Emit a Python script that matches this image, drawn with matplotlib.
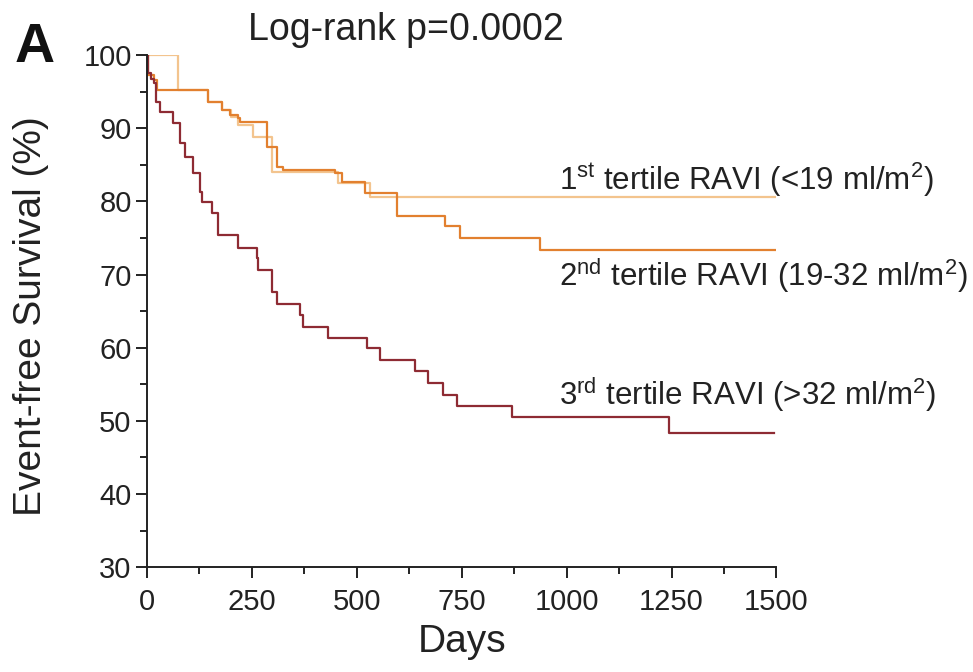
import matplotlib
matplotlib.use("Agg")
import matplotlib.pyplot as plt

plt.rcParams['font.family'] = ['Liberation Sans', 'DejaVu Sans']
plt.rcParams['mathtext.default'] = 'regular'

# Kaplan-Meier steps (days, event-free survival %)
t1_days = [0, 74, 145, 178, 200, 217, 252, 297, 455, 531, 1500]
t1_surv = [100, 95.2, 93.6, 92.5, 91.5, 90.4, 88.8, 84.0, 82.5, 80.6, 80.6]

t2_days = [0, 3, 18, 24, 145, 178, 198, 217, 221, 285, 309, 324, 448, 464,
           519, 595, 710, 745, 936, 1500]
t2_surv = [100, 97.3, 96.6, 95.2, 93.6, 92.5, 91.8, 91.4, 90.8, 87.4, 84.7,
           84.3, 83.9, 82.6, 81.1, 78.0, 76.6, 75.0, 73.3, 73.3]

t3_days = [0, 3, 10, 18, 22, 30, 63, 79, 90, 110, 126, 131, 155, 169, 217,
           262, 264, 298, 310, 364, 371, 431, 524, 555, 638, 669, 705, 738,
           869, 1245, 1495]
t3_surv = [100, 97.5, 96.8, 96.2, 93.6, 92.2, 90.7, 88.0, 86.1, 83.9, 81.3,
           79.9, 78.4, 75.4, 73.6, 72.2, 70.6, 67.6, 66.0, 64.5, 62.8, 61.3,
           59.9, 58.3, 56.8, 55.2, 53.5, 52.0, 50.5, 48.3, 48.3]

labels = [r"1$^{st}$ tertile RAVI (<19 ml/m$^{2}$)",
          r"2$^{nd}$ tertile RAVI (19-32 ml/m$^{2}$)",
          r"3$^{rd}$ tertile RAVI (>32 ml/m$^{2}$)"]
label_y = [82.9, 69.9, 53.6]
colors = ["#F3C48E", "#E2802F", "#8E2B33"]

fig = plt.figure(figsize=(9.73, 6.72), dpi=100)
ax = fig.add_axes([0.151, 0.156, 0.647, 0.762])

for d, s, c in [(t1_days, t1_surv, colors[0]),
                (t2_days, t2_surv, colors[1]),
                (t3_days, t3_surv, colors[2])]:
    ax.step(d, s, where='post', color=c, lw=1.6)

for lab, y in zip(labels, label_y):
    ax.text(983, y, lab, fontsize=22.5, va='center', ha='left', color='#222222')

ax.set_xlim(0, 1500)
ax.set_ylim(30, 100)
ax.set_xticks(range(0, 1501, 250))
ax.set_xticks(range(125, 1500, 250), minor=True)
ax.set_yticks(range(30, 101, 10))
ax.set_yticks(range(35, 100, 10), minor=True)
ax.tick_params(which='both', direction='out', width=1.4, colors='#222222',
               labelsize=21)
ax.tick_params(which='major', length=8)
ax.tick_params(which='minor', length=5)
ax.tick_params(axis='x', pad=7)
ax.tick_params(axis='y', pad=3)
for side in ['top', 'right']:
    ax.spines[side].set_visible(False)
for side in ['left', 'bottom']:
    ax.spines[side].set_linewidth(1.4)
    ax.spines[side].set_color('#222222')

# axis titles placed in figure coords
fig.text(0.475, 0.045, "Days", fontsize=28, ha='center', va='center',
         color='#222222')
fig.text(0.032, 0.53, "Event-free Survival (%)", fontsize=28, rotation=90,
         ha='center', va='center', color='#222222')

fig.text(0.417, 0.955, "Log-rank p=0.0002", fontsize=27, ha='center',
         va='center', color='#222222')
fig.text(0.036, 0.928, "A", fontsize=40, fontweight='bold', ha='center',
         va='center', color='#111111')

fig.savefig("out.png", dpi=100)
